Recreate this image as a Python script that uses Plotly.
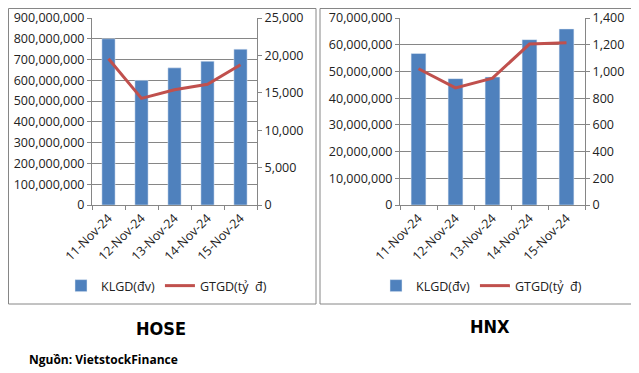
import plotly.graph_objects as go

dates = ["11-Nov-24", "12-Nov-24", "13-Nov-24", "14-Nov-24", "15-Nov-24"]
hose_klgd = [800_000_000, 600_000_000, 660_000_000, 692_000_000, 750_000_000]
hose_gtgd = [19_550, 14_250, 15_400, 16_150, 18_750]
hnx_klgd = [56_700_000, 47_300_000, 47_900_000, 61_900_000, 65_900_000]
hnx_gtgd = [1_020, 877, 950, 1_205, 1_215]

# page body has an 8px margin; the figure is sized/positioned to compensate
OFF = 8
W, H = 639 - OFF, 373 - OFF
BAR = "#4F81BD"
LINE = "#C0504D"
FONT = "Open Sans"
TXT = "#222222"
GRID = "#868686"

def px(x):
    return (x - OFF) / W

def py(y):
    return 1 - (y - OFF) / H

fig = go.Figure()
fig.add_trace(go.Bar(x=dates, y=hose_klgd, name="KLGD(đv)", marker_color=BAR,
                     xaxis="x", yaxis="y", legend="legend"))
fig.add_trace(go.Scatter(x=dates, y=hose_gtgd, name="GTGD(tỷ  đ)", mode="lines",
                         line=dict(color=LINE, width=3), xaxis="x", yaxis="y2", legend="legend"))
fig.add_trace(go.Bar(x=dates, y=hnx_klgd, name="KLGD(đv)", marker_color=BAR,
                     xaxis="x2", yaxis="y3", legend="legend2"))
fig.add_trace(go.Scatter(x=dates, y=hnx_gtgd, name="GTGD(tỷ  đ)", mode="lines",
                         line=dict(color=LINE, width=3), xaxis="x2", yaxis="y4", legend="legend2"))

tickfont = dict(family=FONT, size=12.5, color=TXT)
ydom = [py(205), py(18)]

xcommon = dict(type="category", tickangle=-45, showline=True, linecolor=GRID,
               ticks="outside", tickson="boundaries", ticklen=4, tickcolor=GRID,
               tickfont=tickfont, showgrid=False, automargin=False)
ycommon = dict(showline=True, linecolor=GRID, ticks="outside", ticklen=4,
               tickcolor=GRID, tickfont=tickfont, tickformat=",d", zeroline=False,
               automargin=False)

TITLE_FONT = "DejaVu Sans Condensed, Liberation Sans Narrow, Liberation Sans"

fig.update_layout(
    width=W, height=H, margin=dict(l=0, r=0, t=0, b=0, autoexpand=False),
    paper_bgcolor="white", plot_bgcolor="white",
    bargap=0.6,
    xaxis=dict(domain=[px(92), px(257)], anchor="y", **xcommon),
    yaxis=dict(domain=ydom, anchor="x", range=[0, 900_000_000], dtick=100_000_000,
               showgrid=True, gridcolor=GRID, gridwidth=1, **ycommon),
    yaxis2=dict(overlaying="y", side="right", anchor="x", range=[0, 25_000], dtick=5_000,
                showgrid=False, **ycommon),
    xaxis2=dict(domain=[px(400), px(585)], anchor="y3", **xcommon),
    yaxis3=dict(domain=ydom, anchor="x2", range=[0, 70_000_000], dtick=10_000_000,
                showgrid=True, gridcolor=GRID, gridwidth=1, **ycommon),
    yaxis4=dict(overlaying="y3", side="right", anchor="x2", range=[0, 1_400], dtick=200,
                showgrid=False, **ycommon),
    legend=dict(orientation="h", x=px(61), y=py(286), yanchor="middle", xanchor="left",
                font=dict(family=FONT, size=12.5, color=TXT), bgcolor="rgba(0,0,0,0)"),
    legend2=dict(orientation="h", x=px(376), y=py(286), yanchor="middle", xanchor="left",
                 font=dict(family=FONT, size=12.5, color=TXT), bgcolor="rgba(0,0,0,0)"),
    shapes=[
        dict(type="rect", xref="paper", yref="paper", x0=px(8.5), x1=px(316), y0=py(304), y1=py(8.5),
             line=dict(color=GRID, width=1)),
        dict(type="rect", xref="paper", yref="paper", x0=px(320), x1=px(636), y0=py(304), y1=py(8.5),
             line=dict(color=GRID, width=1)),
    ],
    annotations=[
        dict(text="<b>HOSE</b>", x=px(161), y=py(328.5), xref="paper", yref="paper", showarrow=False,
             xanchor="center", yanchor="middle",
             font=dict(family=TITLE_FONT, size=18, color="black")),
        dict(text="<b>HNX</b>", x=px(490), y=py(326), xref="paper", yref="paper", showarrow=False,
             xanchor="center", yanchor="middle",
             font=dict(family=TITLE_FONT, size=18, color="black")),
        dict(text="<b>Nguồn: VietstockFinance</b>", x=px(27), y=py(359), xref="paper", yref="paper",
             xanchor="left", yanchor="middle", showarrow=False,
             font=dict(family=FONT, size=12, color="black")),
    ],
)

fig.write_html("out.html")
